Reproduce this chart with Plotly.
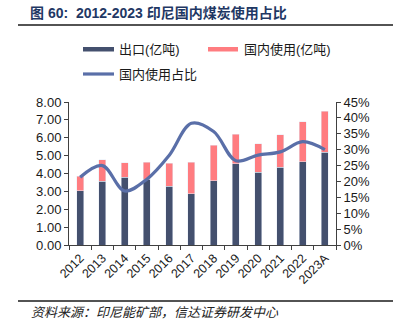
import plotly.graph_objects as go

years = ["2012", "2013", "2014", "2015", "2016", "2017", "2018", "2019", "2020", "2021", "2022", "2023A"]
export = [3.03, 3.57, 3.80, 3.67, 3.29, 2.87, 3.59, 4.54, 4.06, 4.35, 4.65, 5.19]
domestic = [0.82, 1.19, 0.80, 0.96, 1.29, 1.76, 1.99, 1.66, 1.61, 1.83, 2.25, 2.29]
share = [21.3, 25.0, 17.0, 20.7, 28.2, 38.3, 35.7, 26.5, 28.3, 29.3, 32.5, 30.0]

C_DARK = "#44506E"
C_PINK = "#FF7C80"
C_LINE = "#5A6FA8"
FONT = "Liberation Sans, Arial, Noto Sans CJK SC, sans-serif"
CJK = "Noto Sans CJK SC, sans-serif"

fig = go.Figure()
fig.add_trace(go.Bar(x=years, y=export, name="出口(亿吨)", marker_color=C_DARK, showlegend=False))
fig.add_trace(go.Bar(x=years, y=domestic, name="国内使用(亿吨)", marker_color=C_PINK, showlegend=False))
fig.add_trace(go.Scatter(x=years, y=share, name="国内使用占比", yaxis="y2", mode="lines",
                         line=dict(color=C_LINE, width=3.2, shape="spline", smoothing=1.0),
                         showlegend=False))

L, R, T, B = 69, 336, 102, 245
W, H = 401, 333
def px(x):
    return (x - L) / (R - L)
def py(y):
    return (B - y) / (B - T)

shapes = [
    dict(type="line", xref="paper", yref="paper", x0=px(18), x1=px(393), y0=py(25), y1=py(25),
         line=dict(color="#1a1a1a", width=1.5)),
    dict(type="line", xref="paper", yref="paper", x0=px(18), x1=px(393), y0=py(301), y1=py(301),
         line=dict(color="#1a1a1a", width=1.5)),
    dict(type="rect", xref="paper", yref="paper", x0=px(83), x1=px(114), y0=py(47), y1=py(51.5),
         fillcolor=C_DARK, line=dict(width=0)),
    dict(type="rect", xref="paper", yref="paper", x0=px(208), x1=px(238), y0=py(47), y1=py(51.5),
         fillcolor=C_PINK, line=dict(width=0)),
    dict(type="line", xref="paper", yref="paper", x0=px(83), x1=px(114), y0=py(74), y1=py(74),
         line=dict(color=C_LINE, width=3.2)),
]

annotations = [
    dict(text="<b>图 60:&nbsp;&nbsp;2012-2023 印尼国内煤炭使用占比</b>", xref="paper", yref="paper",
         x=px(28), y=py(13), xanchor="left", yanchor="middle", showarrow=False,
         font=dict(family=FONT, size=14, color="#1F3864")),
    dict(text="<i>资料来源：印尼能矿部，信达证券研发中心</i>", xref="paper", yref="paper",
         x=px(29), y=py(311), xanchor="left", yanchor="middle", showarrow=False,
         font=dict(family=CJK, size=13, color="#222222")),
    dict(text="出口(亿吨)", xref="paper", yref="paper", x=px(117), y=py(49), xanchor="left",
         yanchor="middle", showarrow=False, font=dict(family=FONT, size=13, color="#1a1a1a")),
    dict(text="国内使用(亿吨)", xref="paper", yref="paper", x=px(242), y=py(49), xanchor="left",
         yanchor="middle", showarrow=False, font=dict(family=FONT, size=13, color="#1a1a1a")),
    dict(text="国内使用占比", xref="paper", yref="paper", x=px(117), y=py(74), xanchor="left",
         yanchor="middle", showarrow=False, font=dict(family=FONT, size=13, color="#1a1a1a")),
]

axis_common = dict(showgrid=False, zeroline=False, showline=True, linecolor="#404040", linewidth=1,
                   ticks="outside", ticklen=4, tickcolor="#404040",
                   tickfont=dict(family=FONT, size=13, color="#1a1a1a"))

fig.update_layout(
    width=W, height=H, barmode="stack", bargap=0.68,
    margin=dict(l=L, r=W - R, t=T, b=H - B, pad=0),
    paper_bgcolor="white", plot_bgcolor="white",
    shapes=shapes, annotations=annotations,
    xaxis=dict(showgrid=False, zeroline=False, showline=True, linecolor="#404040", linewidth=1,
               ticks="outside", ticklen=4, tickcolor="#404040", tickson="boundaries",
               tickangle=-45, tickfont=dict(family=FONT, size=12.5, color="#1a1a1a")),
    yaxis=dict(range=[0, 8], dtick=1, tickformat=".2f", **axis_common),
    yaxis2=dict(range=[0, 45], dtick=5, ticksuffix="%", overlaying="y", side="right", **axis_common),
)

fig.write_html("out.html")
